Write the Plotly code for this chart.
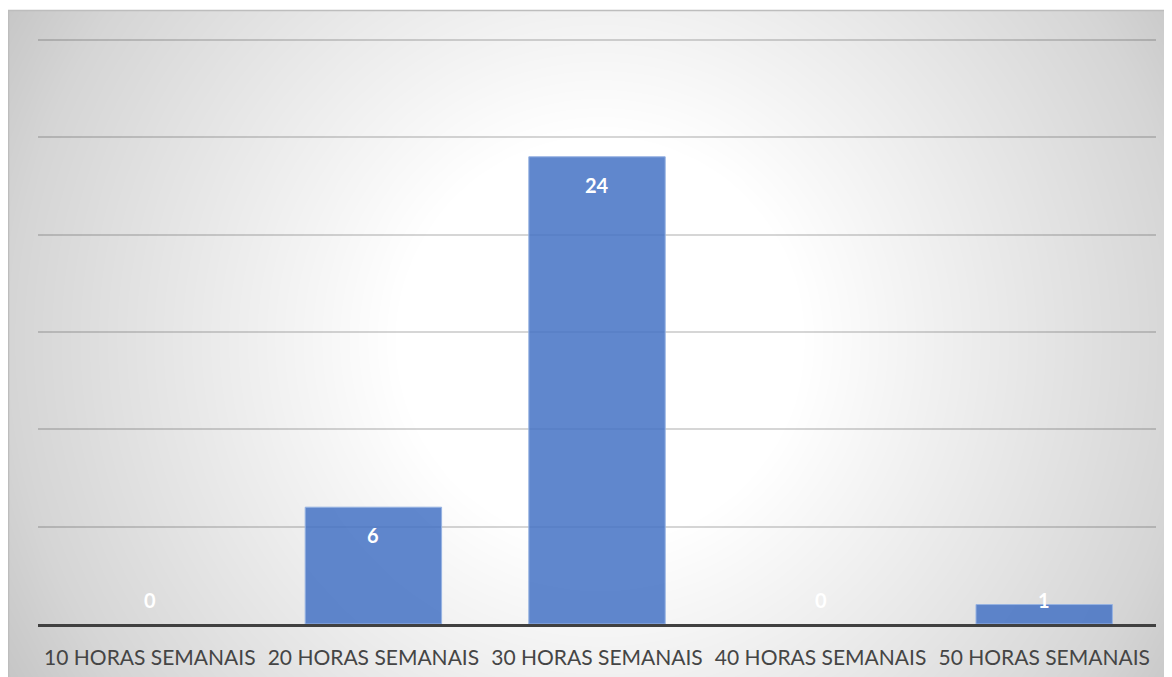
import numpy as np
import plotly.graph_objects as go

categorias = ["10 HORAS SEMANAIS", "20 HORAS SEMANAIS", "30 HORAS SEMANAIS",
              "40 HORAS SEMANAIS", "50 HORAS SEMANAIS"]
valores = [0, 6, 24, 0, 1]

W, H = 1172, 677
# área do gráfico (em px da figura); PT = posição do valor 30
PL, PR, PT, PB = 30, 1148, 32, 616
YMAX = 30
px_por_unid = (PB - PT) / YMAX
topo = PT - 0.5 * px_por_unid  # folga para a linha de grade do 30 aparecer

# fundo com gradiente radial circular (branco no centro, cinza nas bordas)
gx = np.linspace(0, W, 150)
gy = np.linspace(0, H, 90)
X, Y = np.meshgrid(gx, gy)
dist = np.sqrt((X - 592) ** 2 + (Y - 332) ** 2)

fig = go.Figure()
fig.add_trace(go.Heatmap(
    z=dist, x=gx, y=gy, zsmooth="best", showscale=False, hoverinfo="skip",
    zmin=0, zmax=700,
    colorscale=[[0, "#ffffff"], [200 / 700, "#ffffff"], [320 / 700, "#f2f2f2"],
                [590 / 700, "#d5d5d5"], [1, "#c3c3c3"]],
    xaxis="x", yaxis="y",
))

fig.add_trace(go.Bar(
    x=categorias, y=valores, width=0.61,
    marker=dict(color="rgba(68,114,196,0.85)",
                line=dict(color="rgba(150,178,226,1)",
                          width=[1 if v > 0 else 0 for v in valores])),
    hoverinfo="x+y", xaxis="x2", yaxis="y2",
))

# rótulos de dados (dentro do topo da barra; limitados perto da base)
for c, v in zip(categorias, valores):
    yl = max(v - 28 / px_por_unid, 1.25)
    fig.add_annotation(x=c, y=yl, text=f"<b>{v}</b>", showarrow=False,
                       xref="x2", yref="y2", yanchor="middle",
                       font=dict(family="Lato", size=20, color="#ffffff"))

fig.update_layout(
    width=W, height=H,
    margin=dict(l=0, r=0, t=0, b=0),
    paper_bgcolor="#ffffff", plot_bgcolor="rgba(0,0,0,0)",
    showlegend=False,
    xaxis=dict(domain=[0, 1], range=[0, W], visible=False, fixedrange=True),
    yaxis=dict(domain=[0, 1 - 2 / H], range=[H, 2], visible=False, fixedrange=True),
    xaxis2=dict(domain=[PL / W, PR / W], anchor="y2", showgrid=False,
                showline=True, linecolor="#404040", linewidth=3,
                ticks="", ticklabelstandoff=13,
                tickfont=dict(family="Lato", size=21, color="#454545")),
    yaxis2=dict(domain=[1 - PB / H, 1 - topo / H], anchor="x2", range=[0, YMAX + 0.5],
                tickvals=[0, 5, 10, 15, 20, 25, 30], showgrid=True,
                gridcolor="rgba(0,0,0,0.16)", gridwidth=1.5,
                showticklabels=False, zeroline=False, ticks=""),
)

# moldura da área do gráfico
fig.add_shape(type="rect", xref="paper", yref="paper",
              x0=0.5 / W, x1=1 + 5 / W, y0=-0.05, y1=1 - 2.5 / H,
              line=dict(color="#bdbdbd", width=1.5), layer="above")

fig.write_html("out.html")
